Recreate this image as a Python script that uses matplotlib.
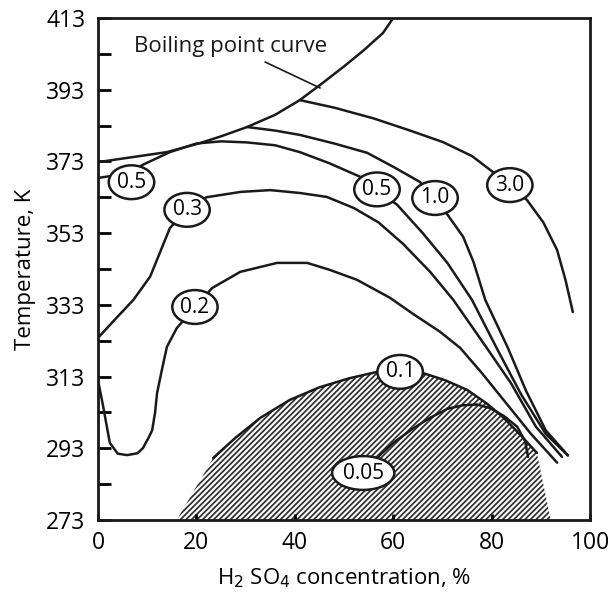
import matplotlib
matplotlib.use("Agg")
import matplotlib.pyplot as plt
import numpy as np

plt.rcParams['font.family'] = ['Open Sans', 'DejaVu Sans']
plt.rcParams['hatch.linewidth'] = 1.3

# curves: (H2SO4 %, temperature K)
boiling_x = [0, 7, 14, 20.7, 25, 30.3, 36, 41, 45.1, 50, 54, 57.9, 60]
boiling_t = [372.8, 374.2, 375.6, 378.1, 380, 382.6, 386, 390.1, 394.3, 399.5, 404, 408.8, 413]

c05_x = [0, 3, 6.5, 9, 14.6, 20, 25, 30.3, 36, 41, 47, 53.3, 56.7, 60.8, 66, 71, 76, 81, 86, 91, 95.5]
c05_t = [368.4, 369, 370, 372, 375.6, 378, 378.6, 378.3, 377.5, 375.6, 372.5, 368.7, 365, 360.9, 353,
         344.7, 334.4, 321, 308, 297, 291]

c10_x = [30.3, 36, 41, 48, 54.7, 60, 65.4, 68.5, 71.1, 74.2, 76.3, 78.7, 83.3, 87, 91, 95.5]
c10_t = [382.6, 381.6, 380.4, 378, 375.4, 371.5, 367.3, 362.8, 358, 352, 345, 334.4, 321, 309, 298, 291]

c30_x = [41, 48, 56, 63, 70.1, 76, 80.3, 83.7, 87.2, 90.5, 93.3, 95, 96.5]
c30_t = [390.1, 388, 385, 381.8, 378.4, 374.5, 370, 366.4, 362.2, 356, 348.3, 340, 331]

c03_x = [0, 3.5, 7.2, 10.6, 14.6, 18, 22, 29, 35, 41, 46.5, 52, 57, 62, 67.5, 72.2, 79, 84, 89, 94.3]
c03_t = [323.8, 329, 334.4, 340.9, 354.4, 359.5, 363, 364.5, 365, 364.2, 363.1, 360, 356, 350, 342.2,
         334.4, 321, 311, 299, 290.6]

c02_x = [0, 1, 2.4, 4, 5.9, 8, 9.1, 10.3, 11, 11.6, 12, 13, 14, 16, 19.7, 23.2, 28.9, 36.4, 42.5, 47,
         52.6, 59.3, 64, 69.5, 73.6, 78, 83, 88, 93.3]
c02_t = [312, 305, 294.5, 291.5, 291.1, 291.6, 293, 296, 298, 303, 308.4, 315, 321.3, 326.5, 332.4, 337.7,
         342.2, 344.7, 344.7, 342.8, 340, 335, 330.5, 325.5, 321, 314, 305.5, 297, 289]

c01_x = [23.4, 28, 33, 39, 45, 51, 56.7, 61.4, 66, 70.5, 75, 79, 82.3, 86, 89.2]
c01_t = [290.3, 296, 301.5, 306.5, 310, 312.5, 314.3, 315, 314, 312, 309.3, 305.5, 301.7, 296.5, 291.7]

c005_x = [55, 57.3, 60, 64, 67.5, 71, 74.2, 77, 79.7, 82.5, 85.2, 86.8, 87.4]
c005_t = [288, 291.1, 294.5, 298.5, 301.5, 304, 305, 305.2, 304.2, 302, 299, 295, 290.6]

# hatched zone ends on the x axis
hatch_left = 16
hatch_right = 92

labels = ['0.5', '0.3', '0.2', '0.1', '0.05', '0.5', '1.0', '3.0']
label_x = [6.8, 18.1, 19.7, 61.4, 53.9, 56.7, 68.5, 83.7]
label_t = [367.2, 359.5, 332.4, 314.3, 286.1, 365.2, 362.8, 366.4]

fig = plt.figure(figsize=(6.10, 5.94), dpi=100)
ax = fig.add_axes([0.1607, 0.1246, 0.8066, 0.8451])

lw = 1.8
# hatched region under the 0.1 curve
poly_x = [hatch_left] + c01_x + [hatch_right]
poly_t = [273] + c01_t + [273]
ax.fill(poly_x, poly_t, facecolor='white', edgecolor='#333333', hatch='//////', linewidth=0, zorder=1)

for xs, ts in [(boiling_x, boiling_t), (c05_x, c05_t), (c10_x, c10_t), (c30_x, c30_t),
               (c03_x, c03_t), (c02_x, c02_t), (c01_x, c01_t), (c005_x, c005_t)]:
    ax.plot(xs, ts, color='#1a1a1a', lw=lw, zorder=3, solid_capstyle='round')

for s, x, t in zip(labels, label_x, label_t):
    ax.text(x, t, s, ha='center', va='center', fontsize=15, zorder=5,
            bbox=dict(boxstyle='ellipse,pad=0.07', facecolor='white', edgecolor='#1a1a1a', linewidth=1.8))

ax.text(7.3, 405, 'Boiling point curve', fontsize=16, va='center', ha='left', color='#1a1a1a')
ax.plot([34, 45.1], [400.7, 393.5], color='#1a1a1a', lw=1.2)

ax.set_xlim(0, 100)
ax.set_ylim(273, 413)
ax.set_xticks([0, 20, 40, 60, 80, 100])
ax.set_yticks(np.arange(273, 414, 20))
ax.set_yticks(np.arange(283, 414, 20), minor=True)
ax.tick_params(axis='y', which='both', direction='in', length=9, width=2, labelsize=16.5, pad=9)
ax.tick_params(axis='x', direction='in', length=4, width=2, labelsize=16.5, pad=8)
for sp in ax.spines.values():
    sp.set_linewidth(2)
    sp.set_color('#1a1a1a')

ax.set_xlabel('H$_2$ SO$_4$ concentration, %', fontsize=16, labelpad=8)
ax.set_ylabel('Temperature, K', fontsize=16, labelpad=7)

fig.savefig('out.png', dpi=100)
